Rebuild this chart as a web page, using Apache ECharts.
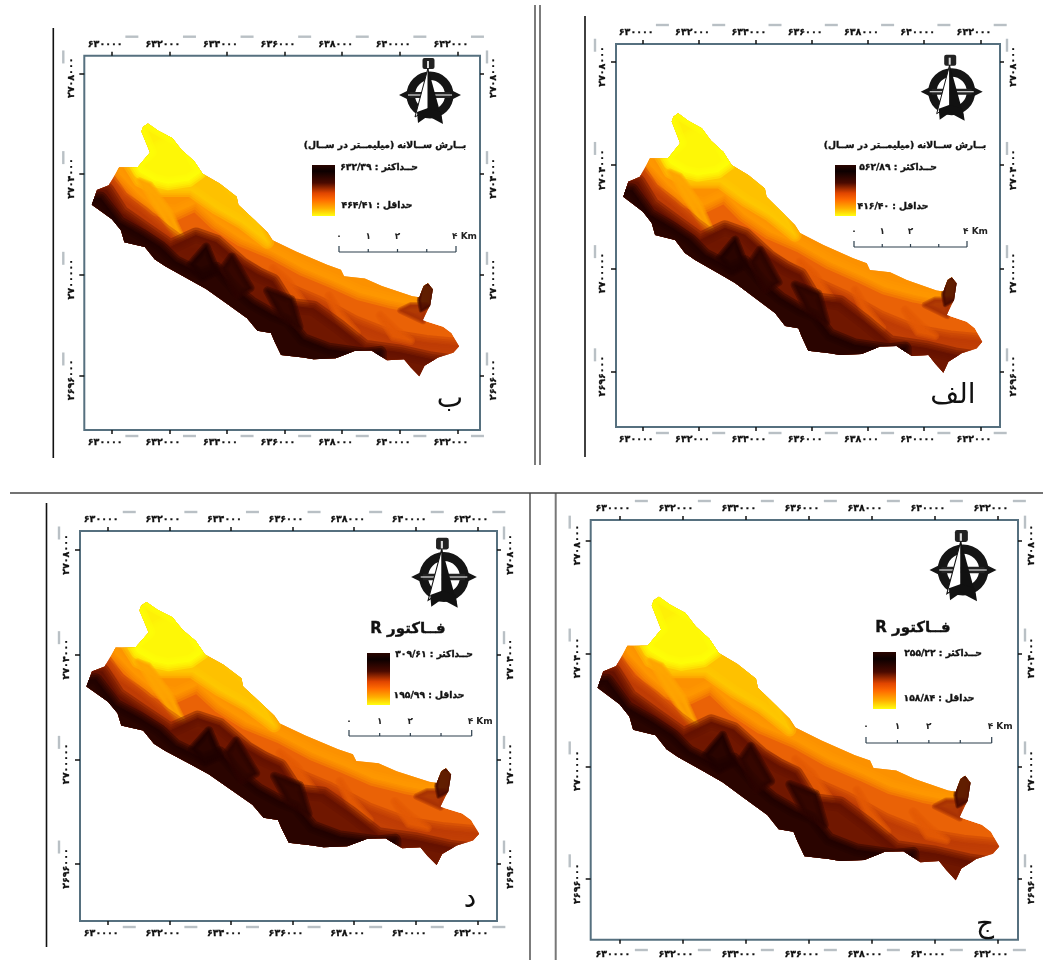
<!DOCTYPE html>
<html><head><meta charset="utf-8">
<style>html,body{margin:0;background:#fff}#c{width:1043px;height:960px;filter:blur(.35px)}</style>
<script src="https://cdn.jsdelivr.net/npm/echarts@6/dist/echarts.min.js"></script></head>
<body><div id="c"></div>
<script>
// Tick values (km; labels print metres in Persian digits)
const eastTicks=[630,632,634,636,638,640,642];
const northTicks=[2696,2700,2704,2708];
// Basin outline (easting km / northing km)
const outlineE=[631.26,631.62,632.10,632.43,632.86,633.16,633.75,634.34,634.40,635.41,635.59,636.42,637.48,637.96,638.07,638.79,639.38,640.44,640.68,640.83,640.98,641.15,641.06,640.80,641.51,641.80,642.06,641.86,641.33,640.86,640.68,640.38,640.15,639.56,639.02,638.43,637.78,637.01,636.65,635.88,635.65,635.53,635.06,634.70,633.99,633.28,632.67,631.86,631.50,631.15,630.44,630.32,630.01,629.31,629.49,629.90,630.26,630.90,631.33,631.03,631.09];
const outlineN=[2706.01,2705.72,2705.43,2704.95,2704.52,2704.01,2703.62,2703.10,2702.78,2701.68,2701.37,2700.91,2700.39,2700.20,2699.94,2699.85,2699.55,2699.14,2699.10,2699.55,2699.66,2699.42,2698.78,2698.19,2697.93,2697.68,2697.16,2696.90,2696.71,2696.38,2695.96,2696.32,2696.64,2696.60,2696.99,2696.97,2696.68,2696.64,2696.71,2696.81,2697.35,2697.68,2697.77,2698.27,2698.85,2699.43,2699.82,2700.33,2700.60,2701.10,2701.29,2701.76,2702.20,2702.78,2703.36,2703.55,2704.27,2704.27,2704.85,2705.69,2705.88];
// Value zones read from the raster
const amberE=[630.26,630.90,631.50,632.21,632.92,633.63,634.52,635.59,636.65,637.72,638.61,639.67,640.56,640.91,641.09,637.36,634.17,631.68,629.90];
const amberN=[2704.01,2703.23,2702.65,2702.46,2702.84,2702.07,2701.41,2700.91,2700.25,2699.74,2699.28,2698.97,2698.78,2698.97,2699.94,2701.10,2703.81,2706.53,2704.98];
const goldE=[630.61,630.97,631.68,632.75,633.63,634.52,635.41,634.70,633.28,632.39];
const goldN=[2704.40,2703.74,2703.35,2703.35,2702.65,2702.07,2701.29,2702.84,2704.40,2705.56];
const yellowE=[630.79,632.57,633.10,632.67,631.96,631.50,630.97,630.83,631.33];
const yellowN=[2706.33,2705.17,2704.09,2703.74,2703.62,2703.74,2704.09,2704.36,2704.86];
const ridgeE=[630.97,631.33,632.04,632.46,632.28,631.75];
const ridgeN=[2703.74,2703.58,2702.46,2701.41,2701.41,2702.34];
const darkOrangeE=[629.37,629.90,630.33,631.04,631.86,632.57,633.63,634.70,635.77,637.19,638.43,639.67,640.92,642.34,642.34,635.59,632.04,628.48];
const darkOrangeN=[2703.50,2703.74,2703.04,2702.46,2701.68,2701.10,2700.91,2700.25,2699.55,2698.85,2698.08,2697.53,2697.30,2697.15,2694.90,2694.90,2697.22,2701.10];
const darkRedE=[629.26,629.83,630.33,631.15,632.04,632.92,633.63,634.52,635.06,635.59,636.12,637.01,637.90,638.78,640.03,641.09,642.34,642.34,635.59,632.04,628.48];
const darkRedN=[2703.43,2703.35,2702.46,2701.80,2701.10,2701.57,2701.29,2700.40,2700.02,2699.74,2698.78,2698.66,2697.92,2697.11,2696.91,2696.64,2696.45,2694.90,2694.90,2697.22,2701.10];
const blackE=[629.12,629.62,630.26,631.04,631.68,632.21,633.10,633.63,634.34,634.88,635.59,636.12,636.65,637.54,638.78,639.32,639.32,635.59,632.04,628.48];
const blackN=[2703.04,2703.04,2702.07,2701.57,2701.10,2700.52,2700.02,2700.25,2699.36,2698.85,2698.39,2698.16,2697.42,2697.03,2696.84,2696.91,2694.90,2694.90,2697.22,2701.10];
const knobE=[640.77,641.20,641.09,640.74,640.67];
const knobN=[2699.71,2699.55,2698.78,2698.58,2698.97];
const knobFootE=[640.38,640.92,640.81,640.03];
const knobFootN=[2698.78,2698.78,2698.16,2698.58];
const fingerAE=[632.75,633.28,633.63,633.17], fingerAN=[2700.40,2701.10,2700.13,2699.86];
const fingerBE=[634.17,634.81,634.34,633.88], fingerBN=[2700.71,2699.47,2699.16,2700.25];
const fingerCE=[635.41,636.23,636.51,635.87], fingerCN=[2699.36,2699.01,2697.92,2698.39];
const spurDE=[635.59,636.12,636.72,636.30], spurDN=[2700.25,2699.74,2698.78,2698.85];
const spurEE=[637.54,637.93,638.50,638.00], spurEN=[2699.16,2698.47,2697.69,2697.92];
const spurFE=[639.32,639.85,640.38,639.78], spurFN=[2698.39,2697.81,2697.38,2697.53];
// Legend values
const panelNames=['الف','ب','ج','د'];
const maxValues=['۵۶۲/۸۹','۶۳۲/۳۹','۲۵۵/۲۲','۳۰۹/۶۱'];
const minValues=['۴۱۶/۴۰','۴۶۴/۴۱','۱۵۸/۸۴','۱۹۵/۹۹'];
const titles=['بــارش ســالانه (میلیمــتر در ســال)','بــارش ســالانه (میلیمــتر در ســال)','R فــاکتور','R فــاکتور'];
const scaleLabels=['۰','۱','۲','۴ Km'];

const zones=[
 {e:outlineE,n:outlineN,c:'#ea6206',b:0},
 {e:amberE,n:amberN,c:'#ff9800',b:7},
 {e:goldE,n:goldN,c:'#ffc800',b:6},
 {e:yellowE,n:yellowN,c:'#ffff08',b:6},
 {e:ridgeE,n:ridgeN,c:'#ffa400',b:3},
 {e:darkOrangeE,n:darkOrangeN,c:'#bf3c04',b:7},
 {e:spurDE,n:spurDN,c:'#e45a04',b:4},
 {e:spurEE,n:spurEN,c:'#e45a04',b:4},
 {e:spurFE,n:spurFN,c:'#e45a04',b:4},
 {e:darkRedE,n:darkRedN,c:'#651200',b:7},
 {e:blackE,n:blackN,c:'#200300',b:6},
 {e:fingerAE,n:fingerAN,c:'#200300',b:4},
 {e:fingerBE,n:fingerBN,c:'#2c0500',b:4},
 {e:fingerCE,n:fingerCN,c:'#2c0500',b:4},
 {e:knobFootE,n:knobFootN,c:'#a83204',b:3},
 {e:knobE,n:knobN,c:'#4a0c00',b:2}
];

// layout of the four panels
const P=[
 {l:616,t:44,r:1000,b:427,x0:642.7,xs:28.15,y0:62,ys:25.8,side:[585,16,457],bm:8,
  comp:[951.7,91.7,1],title:[905,146,9.2],bar:[835,165,21,51],maxT:[898,168],minT:[893,207],sb:[854,967,247,232],let:[953,396]},
 {l:84.3,t:55.7,r:480,b:430,x0:111.7,xs:28.8,y0:73.3,ys:25.17,side:[53.3,28,458],bm:8,
  comp:[430,95,1],title:[385,146,9.2],bar:[312,165,23,51],maxT:[379,168],minT:[377,206],sb:[339,456,252,237],let:[450,400]},
 {l:590.7,t:520,r:1018,b:944,x0:619.3,xs:31.5,y0:540.7,ys:28.5,side:[555.7,493,960],bm:10,
  comp:[963,570,1.08],title:[913,628,15],bar:[873,652,23,57],maxT:[943,654],minT:[939,699],sb:[866,991.7,743,727],let:[985,925]},
 {l:80,t:531,r:497,b:921,x0:107.7,xs:30.8,y0:550,ys:26.17,side:[46.5,503,947],bm:8,
  comp:[444,577,1.06],title:[408,629,15],bar:[367,653,23,52],maxT:[434,655],minT:[429,696],sb:[349,471.7,736,722],let:[470,900]}
];
const fa=s=>String(s).replace(/\d/g,d=>'۰۱۲۳۴۵۶۷۸۹'[d]);
const FRAME='#56707f',FONT='"DejaVu Sans"';
const grid=[],xAxis=[],yAxis=[],series=[],graphic=[];

function mapItem(params,api){
  const pts=(E,N)=>E.map((v,i)=>api.coord([v,N[i]]));
  const children=[];
  zones.forEach(z=>{
    const points=pts(z.e,z.n);
    if(!z.b){children.push({type:'polygon',shape:{points},style:{fill:z.c}});return;}
    [2.2,1.5,.9,.4].forEach(w=>children.push({type:'polygon',shape:{points},
      style:{fill:z.c,stroke:z.c,lineWidth:z.b*w,lineJoin:'round',opacity:.4}}));
  });
  return {type:'group',clipPath:{type:'polygon',shape:{points:pts(outlineE,outlineN)}},children};
}
function dashItem(p){
  return function(params,api){
    const kind=api.value(0),v=api.value(1),D=6.5;
    let x1,x2,y1,y2;
    if(kind===0){const c=api.coord([v+.7,2700]);const y=p.t-19;x1=c[0]-D;x2=c[0]+D;y1=y2=y;}
    else if(kind===1){const c=api.coord([v+.7,2700]);const y=p.b+6;x1=c[0]-D;x2=c[0]+D;y1=y2=y;}
    else if(kind===2){const c=api.coord([630,v+.65]);const x=p.l-21;y1=c[1]-D;y2=c[1]+D;x1=x2=x;}
    else{const c=api.coord([630,v+.65]);const x=p.r+7;y1=c[1]-D;y2=c[1]+D;x1=x2=x;}
    return {type:'line',shape:{x1,y1,x2,y2},style:{stroke:'#b9c0c5',lineWidth:2.4}};
  };
}
const labelStyle={color:'#111',fontFamily:FONT,fontWeight:'bold',fontSize:9.5,textBorderColor:'#111',textBorderWidth:.3};
P.forEach((p,i)=>{
  grid.push({left:p.l,top:p.t,width:p.r-p.l,height:p.b-p.t,show:true,borderColor:FRAME,borderWidth:2,backgroundColor:'#fff'});
  const xmin=630-(p.x0-p.l)/p.xs,xmax=630+(p.r-p.x0)/p.xs;
  const ymax=2708+(p.y0-p.t)/p.ys,ymin=2708-(p.b-p.y0)/p.ys;
  ['bottom','top'].forEach(pos=>xAxis.push({type:'value',gridIndex:i,position:pos,min:xmin,max:xmax,
    splitLine:{show:false},axisLine:{show:false},
    axisTick:{show:true,length:4,customValues:eastTicks,lineStyle:{color:'#111',width:1.5}},
    axisLabel:{...labelStyle,show:true,customValues:eastTicks,formatter:v=>fa(v*1000),margin:pos==='top'?6:p.bm,padding:[0,13,0,0]}}));
  ['left','right'].forEach(pos=>yAxis.push({type:'value',gridIndex:i,position:pos,min:ymin,max:ymax,
    splitLine:{show:false},axisLine:{show:false},
    axisTick:{show:true,length:pos==='left'?5:4,customValues:northTicks,lineStyle:{color:'#111',width:1.5}},
    axisLabel:{...labelStyle,show:true,customValues:northTicks,rotate:90,formatter:v=>fa(v*1000),margin:pos==='left'?8:9,padding:[0,9,0,0]}}));
  series.push({type:'custom',xAxisIndex:i*2,yAxisIndex:i*2,coordinateSystem:'cartesian2d',clip:false,silent:true,
    data:[[636,2700]],renderItem:mapItem,z:3});
  const dashes=[];
  eastTicks.forEach(v=>{dashes.push([0,v]);dashes.push([1,v]);});
  northTicks.forEach(v=>{dashes.push([2,v]);dashes.push([3,v]);});
  series.push({type:'custom',xAxisIndex:i*2,yAxisIndex:i*2,coordinateSystem:'cartesian2d',clip:false,silent:true,
    data:dashes,encode:{x:-1,y:-1},renderItem:dashItem(p),z:2});

  const [sx,s1,s2]=p.side;
  graphic.push({type:'line',shape:{x1:sx,y1:s1,x2:sx,y2:s2},style:{stroke:i===2?'#777':'#111',lineWidth:i===2?2:1.6},z:10});
  const [cx,cy,k]=p.comp;
  graphic.push({type:'group',x:cx,y:cy,scaleX:k,scaleY:k,z:10,children:[
    {type:'ring',shape:{cx:0,cy:0,r:23.5,r0:15},style:{fill:'#151515'}},
    {type:'polygon',shape:{points:[[-31,0],[-19,-6],[-19,6]]},style:{fill:'#151515'}},
    {type:'polygon',shape:{points:[[31,0],[19,-6],[19,6]]},style:{fill:'#151515'}},
    {type:'rect',shape:{x:-20,y:-3,width:40,height:6},style:{fill:'#222'}},
    {type:'rect',shape:{x:-22,y:-.5,width:44,height:1},style:{fill:'#fff'}},
    {type:'polygon',shape:{points:[[-2,-27],[-15,22],[-2,14]]},style:{fill:'#fff',stroke:'#111',lineWidth:1}},
    {type:'polygon',shape:{points:[[-2,-27],[12,24],[-2,14]]},style:{fill:'#111'}},
    {type:'polygon',shape:{points:[[-13,17],[-12,28],[-2,21],[13,29],[11,17],[-2,13]]},style:{fill:'#111'}},
    {type:'rect',shape:{x:-7.5,y:-37,width:12,height:11,r:2},style:{fill:'#222'}},
    {type:'rect',shape:{x:-3,y:-34,width:2,height:7},style:{fill:'#ddd'}}
  ]});
  const heavy={fill:'#111',stroke:'#111',lineWidth:.35};
  graphic.push({type:'text',x:p.title[0],y:p.title[1],z:10,style:{...heavy,text:titles[i],align:'center',verticalAlign:'middle',font:`bold ${p.title[2]}px ${FONT}`}});
  const [bx,by,bw,bh]=p.bar;
  graphic.push({type:'rect',z:10,shape:{x:bx,y:by,width:bw,height:bh},style:{fill:new echarts.graphic.LinearGradient(0,0,0,1,[
    {offset:0,color:'#2a0500'},{offset:.12,color:'#0c0000'},{offset:.35,color:'#4a0a00'},{offset:.55,color:'#e04500'},{offset:.68,color:'#ff6a00'},{offset:.85,color:'#ffb000'},{offset:1,color:'#ffff10'}])}});
  graphic.push({type:'text',x:p.maxT[0],y:p.maxT[1],z:10,style:{...heavy,text:'حــداکثر : '+maxValues[i],align:'center',verticalAlign:'middle',font:`bold 9.2px ${FONT}`}});
  graphic.push({type:'text',x:p.minT[0],y:p.minT[1],z:10,style:{...heavy,text:'حداقل : '+minValues[i],align:'center',verticalAlign:'middle',font:`bold 9.2px ${FONT}`}});
  const [a,b,sy,ly]=p.sb,st=(b-a)/4;
  graphic.push({type:'line',z:10,shape:{x1:a,y1:sy,x2:b,y2:sy},style:{stroke:'#2c3e4c',lineWidth:1.2}});
  [0,1,2,3,4].forEach(j=>graphic.push({type:'line',z:10,shape:{x1:a+j*st,y1:sy,x2:a+j*st,y2:sy-((j===0||j===4)?6:3)},style:{stroke:'#2c3e4c',lineWidth:1.2}}));
  scaleLabels.forEach((t,j)=>{const u=[0,1,2,4][j];
    graphic.push({type:'text',z:10,x:j===3?a+u*st-4:a+u*st,y:ly,style:{text:t,align:j===3?'left':'center',verticalAlign:'middle',font:`bold 9px ${FONT}`,fill:'#222'}});});
  graphic.push({type:'text',z:10,x:p.let[0],y:p.let[1],style:{text:panelNames[i],align:'center',verticalAlign:'middle',font:`28px ${FONT}`,fill:'#111'}});
});
[[535,5,535,465],[540,5,540,465],[10,493,1043,493],[530,493,530,960]].forEach(s=>
  graphic.push({type:'line',z:10,shape:{x1:s[0],y1:s[1],x2:s[2],y2:s[3]},style:{stroke:'#444',lineWidth:1.4}}));

const chart=echarts.init(document.getElementById('c'),null,{renderer:'canvas'});
chart.setOption({animation:false,backgroundColor:'#fff',grid,xAxis,yAxis,series,graphic:{elements:graphic}});
</script></body></html>
